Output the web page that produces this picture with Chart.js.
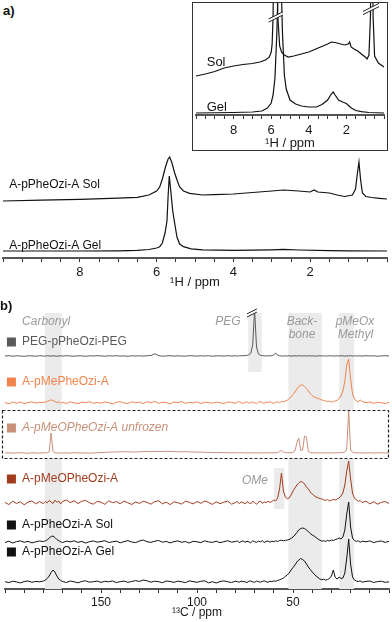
<!DOCTYPE html>
<html>
<head>
<meta charset="utf-8">
<script src="https://cdn.jsdelivr.net/npm/chart.js@4"></script>
<style>
  body { margin: 0; background: #fff; }
  #wrap { position: relative; width: 392px; height: 622px; overflow: hidden; font-family: "Liberation Sans", Arial, sans-serif; }
  canvas { position: absolute; }
  .tag { position: absolute; font-weight: bold; font-size: 13px; z-index: 2; color: #111; }
</style>
</head>
<body>
<div id="wrap">
  <div class="tag" style="left:3px;top:3px">a)</div>
  <div class="tag" style="left:0px;top:298px">b)</div>
  <canvas id="hInset" width="196" height="149" style="left:192px;top:2px"></canvas>
  <canvas id="hMain" width="392" height="140" style="left:0;top:150px"></canvas>
  <canvas id="c13" width="392" height="332" style="left:0;top:290px"></canvas>
</div>
<script>
// ---- a) 1H spectra, main ----
const hSolPpm = [10,9,8,7,6.5,6.2,6.0,5.92,5.85,5.77,5.7,5.66,5.6,5.53,5.45,5.4,5.3,5.14,4.8,4.5,4,3.5,3,2.7,2.3,2,1.9,1.8,1.5,1.3,1.1,0.9,0.82,0.77,0.73,0.69,0.64,0.55,0.4,0.2,0];
const hSolInt = [0,0.8,1.6,2.8,3.7,6,10,14,22,34,42,44,38,28,19,14,10,7.7,6,6.3,7,8.5,10,11,10,9,11,9,8,6,4.5,6,12,28,39,22,8,4.5,3.5,2.7,2];
const hGelPpm = [10,8,7,6.5,6.2,6.0,5.92,5.85,5.78,5.73,5.7,5.67,5.63,5.58,5.53,5.47,5.4,5.3,5.1,4.8,4,3,2.7,2.3,1.5,1,0];
const hGelInt = [0,0,0.2,0.6,1.5,3,4.3,8,18,30,55,75,60,40,28,14,7,4.3,2.2,1.2,0.6,1.2,1.6,1,0.4,0.2,0];

// ---- a) inset ----
const inSolPpm = [10,9.5,9,8.5,8,7.5,7,6.6,6.3,6.1,6.0,5.95,5.9,5.85,5.75,5.65,5.55,5.45,5.3,5.1,4.8,4.4,4,3.5,3,2.8,2.6,2.3,2.1,1.9,1.83,1.75,1.6,1.4,1.2,1,0.9,0.8,0.72,0.68,0.62,0.58,0.5,0.3,0];
const inSolInt = [0,2,4.5,8,10,11.5,12.5,14,16,19,24,32,60,150,150,60,30,24,21,19,20,22,24,28,32,34,33.5,32,31,32,34,29,27,25,22,19,17,21,60,150,150,60,20,13,9];
const inGelPpm = [10,8,7,6.5,6.2,6.0,5.9,5.8,5.7,5.6,5.5,5.4,5.3,5.2,5.0,4.7,4.4,4.0,3.6,3.3,3.0,2.8,2.7,2.6,2.42,2.2,2.0,1.74,1.5,1.2,0.8,0];
const inGelInt = [0,0.5,1,2,5,10,18,35,80,150,150,80,38,24,13,9,7,6,6,8.5,13,19,21,18,13,11,9.5,5,2.5,1.3,0.5,0];

const hTicks = [2, 4, 6, 8];

// ---- b) 13C spectra ----
const cPpm = [200,198,196,194,192,190,188,186,184,182,
  180,179,178,177,176,175,174,173,172,171,
  170,168,166,164,162,160,158,156,154,152,
  150,148,146,144,142,140,138,136,134,132,
  130,128,126,124,122,120,118,116,114,112,
  110,108,106,104,102,100,98,96,94,92,
  90,88,86,84,82,80,79,78,77,76,
  75,74,73,72,71,70,69,68,67,66,
  65,64,63,62,61,60,59,58,57,56,
  55,54,53,52,51,50,49,48,47,46,
  45,44,43,42,41,40,39,38,37,36,
  35,34,33,32,31,30,29,28,27,26,
  25,24,23,22,21,20,19,18,17,16,
  15,14,12,10,8,6,4,2,0];

const cPeg = [0,0.3,-0.2,0.2,0,-0.3,0.2,0.1,-0.2,0.3,
  0,-0.2,0.3,0.1,-0.1,0.2,0,-0.3,0.1,0.2,
  -0.1,0.3,0,-0.2,0.2,0.1,-0.3,0.2,0,0.3,
  0.1,-0.2,0.2,0,0.3,-0.1,0.1,-0.3,0.2,0,
  0.2,-0.1,0.3,0.5,2.2,0.4,-0.2,0.1,0.3,-0.1,
  0.2,0,-0.2,0.3,0.1,-0.1,0.2,0,0.3,-0.2,
  0.1,0.2,-0.1,0.3,0,0.2,-0.1,0.3,0.2,0.4,
  0.3,0.6,1.2,2.5,11,46,9,2,0.8,0.3,
  0.2,0,0.3,0.1,0.4,1.2,3,0.8,0.2,0.1,
  -0.1,0.2,0,0.3,-0.2,0.1,0.2,0,0.3,0.1,
  0,0.2,-0.1,0.3,0.1,0,0.2,-0.2,0.1,0.3,
  0,0.2,-0.1,0.1,0.3,0,0.2,-0.1,0.2,0,
  0.3,0.1,-0.2,0.2,0,0.3,-0.1,0.2,0,0.1,
  0.2,-0.1,0.3,0,0.2,-0.2,0.1,0.3,0];

const cMePhe = [0.5,-0.8,0.9,-0.3,1.1,-0.6,0.4,1.2,-0.2,0.7,
  0.3,1,1.6,2.2,3.2,2.5,1.4,0.6,1.2,-0.3,
  0.8,-0.5,1.1,0.2,-0.7,0.9,0.3,1.3,-0.4,0.6,
  -0.2,1,0.4,-0.9,0.7,1.4,0.1,-0.5,1.2,0.3,
  0.9,-0.6,1.3,0.2,1.6,-0.3,0.8,0.4,-0.7,1.1,
  0.2,1.4,-0.4,0.7,0.1,1.2,-0.6,0.9,0.4,-0.2,
  0.8,0.3,-0.5,1.1,0.6,-0.3,0.9,1.3,0.2,-0.4,
  0.7,1.2,-0.2,0.5,1,0.1,-0.6,0.8,1.3,0.4,
  -0.3,0.9,0.5,1.4,0.2,-0.5,0.8,1.1,0.3,1.6,
  1.2,2,2.8,4.5,6,8.5,11,14,16.5,18,
  18,16.5,14.5,12,9.5,7.5,6,5.2,4.6,3.8,
  3,2.6,2,1.4,1.8,0.9,1.5,2.1,2.8,4.5,
  7,12,22,38,44,24,9,4,2,1.3,
  3,1.5,0.4,1,-0.3,0.8,0.2,-0.5,0.6];

const cUnfrozen = [0,0.2,-0.1,0.1,0.3,0,-0.2,0.2,0.1,-0.1,
  0.2,0,0.3,1,20,1.5,0.2,-0.1,0.1,0.2,
  0,0.2,-0.1,0.3,0.1,0,0.2,-0.2,0.1,0.3,
  0.4,0.6,0.8,1,1.1,1.2,1.3,1.2,1.1,1,
  1.2,1.4,1.5,1.3,1.6,1.4,1.5,1.7,1.5,1.4,
  1.3,1.2,1.4,1.1,1,0.9,0.8,0.7,0.6,0.5,
  0.4,0.5,0.3,0.4,0.2,0.3,0.1,0.2,0.3,0.1,
  0.2,0,0.1,0.3,0.2,0,0.1,0.2,0,0.1,
  0.2,0.1,0,0.2,0.3,0.1,0.2,0.5,1.5,2.5,
  1,0.4,0.3,0.2,0.4,0.6,2,10,15,2.5,
  3,17,16,1.5,0.4,0.2,0.1,0.2,0,0.1,
  0.2,0,0.1,0.2,0.1,0,0.2,0.1,0.3,0.2,
  0.4,0.6,1,4,43,3,0.8,0.4,0.2,0.1,
  0.2,0,0.1,0.2,0,0.1,0.2,0,0.1];

const cMeOPhe = [0.5,-1.5,1.8,-0.4,1.2,-1.8,0.9,2,-0.8,1.4,
  -0.6,1.6,0.2,2.4,1.1,-0.5,2.8,0.7,1.9,-0.9,
  1.5,3,0.4,2.2,-0.6,1.8,2.6,0.3,-1.2,1.6,
  0.8,-1.4,2.1,0.4,1.3,-0.7,1.9,0.2,-1.5,1.1,
  -0.4,1.7,0.6,-1.2,1.4,2.2,-0.8,0.9,-1.6,1.2,
  0.3,-1.1,1.8,0.7,-0.9,1.5,-0.3,2,0.6,-1.4,
  1.2,-0.6,0.8,1.9,-1.2,0.5,1.6,-0.7,1.1,0.3,
  -1,1.4,0.2,-0.8,1.7,0.6,-1.3,0.9,2,-0.4,
  1.1,0.3,1.8,0.6,1.5,3,2.2,5,14,30,
  12,6,4,5,8,12,15,18,20,21.5,
  21,19,16,14,11,9,7.5,6,5.2,4.5,
  4,3.2,2.5,3.4,2,2.8,3.6,3,4,5,
  7,10,18,32,42,24,10,5,3,1.6,
  2.5,0.4,1.8,-0.9,1.3,-1.2,0.6,1.5,-0.5];

const cSol = [-0.5,0.8,-1,0.4,1.1,-0.3,0.6,-0.9,0.2,1,
  0.4,1.2,2.2,3.8,5.5,6,4.5,2.5,1.3,0.3,
  -0.6,0.9,0.1,1.2,-0.4,0.6,-1,0.3,1.1,-0.2,
  0.5,1.3,-0.5,0.2,0.9,-0.8,0.4,1.4,0,-0.6,
  1,2,0.3,-0.4,0.8,1.5,-0.2,0.6,-0.9,0.4,
  1.1,-0.3,0.5,-1,0.7,0.2,-0.6,1.2,0.1,-0.4,
  0.8,-0.7,0.3,1.3,-0.2,0.6,1,-0.5,0.4,1.2,
  -0.3,0.7,0.2,-0.8,1.1,0.4,-0.4,0.9,0.1,1.3,
  -0.5,0.6,1,-0.2,0.8,0.3,1.2,0.5,1.5,1.8,
  1.2,1.6,2,2.5,3.5,5,7,9.5,12,13.5,
  14,13.5,12,10.5,8.5,7,6,4.5,3,1.8,
  0.8,1.3,0.5,1.6,1,2,1.5,2.4,3,4,
  3,5,12,28,40,15,4,1.5,0.6,1.2,
  -0.3,0.8,0.2,1.1,-0.6,0.5,1,-0.4,0.7];

const cGel = [0.3,-0.6,0.8,0.1,-0.9,0.5,1,-0.3,0.6,0.2,
  1,2,3.5,6,9.5,12,10,6,3,1.5,
  0.4,-0.5,1,0.2,-0.8,0.6,1.2,-0.2,0.3,0.9,
  -0.4,0.7,0.2,1.1,-0.6,0.4,0.9,-0.3,0.5,1.4,
  0.6,2,1.2,-0.2,0.8,0.3,-0.7,1,0.5,-0.4,
  0.9,0.2,-0.6,1.1,0.4,-0.3,0.7,1.2,-0.9,0.3,
  -1,0.5,1.1,0.2,-0.5,0.8,0.3,-0.2,0.9,0.4,
  0.2,-0.6,0.7,1,0.1,-0.3,0.9,0.4,-0.2,0.6,
  1.2,0.3,-0.4,0.8,0.5,1.1,0.7,1.6,2.2,3,
  4,5.5,7,9,12,14.5,17,20,22,23.5,
  22.5,21,18,15,12.5,10,8,6,4.5,3,
  2.2,2.8,1.8,2.5,3.5,6,12,4.5,3,5,
  3.5,4,9,24,43,18,5,2,1,0.5,
  1.1,-0.2,0.6,1,-0.5,0.4,0.8,-0.3,0.2];

const cNames = ['PEG-pPheOzi-PEG', 'A-pMePheOzi-A', 'A-pMeOPheOzi-A unfrozen', 'A-pMeOPheOzi-A', 'A-pPheOzi-A Sol', 'A-pPheOzi-A Gel'];
const cTicks = [50, 100, 150];

Chart.defaults.font.family = '"Liberation Sans", Arial, sans-serif';
Chart.defaults.animation = false;

const GREY = '#9a9a9a';

function pts(ppm, vals, base) {
  return ppm.map((p, i) => ({ x: p, y: vals[i] + base }));
}
function line(ppm, vals, base, color, w) {
  return { data: pts(ppm, vals, base), borderColor: color, borderWidth: w || 1, pointRadius: 0, tension: 0, fill: false };
}

function ppmAxis(o) {
  return {
    type: 'linear', reverse: true, min: o.min, max: o.max,
    border: { color: '#555', width: 2 },
    grid: { drawOnChartArea: false, tickLength: 4, color: '#333', tickWidth: 1 },
    ticks: {
      stepSize: o.step, autoSkip: false, maxRotation: 0, padding: o.pad, color: '#1a1a1a',
      font: { size: o.size },
      callback: v => o.labels.includes(v) ? String(v) : ''
    },
    title: { display: true, text: o.title, color: '#1a1a1a', font: { size: o.tsize }, padding: { top: 0, bottom: o.tpad } },
    afterFit: s => { s.height = o.h; }
  };
}

function drawBreak(ctx, cx, cy, w) {
  const dx = w / 2, dy = w * 0.25, g = 1.6;
  ctx.fillStyle = '#fff';
  ctx.beginPath();
  ctx.moveTo(cx - dx, cy + dy - g); ctx.lineTo(cx + dx, cy - dy - g);
  ctx.lineTo(cx + dx, cy - dy + g); ctx.lineTo(cx - dx, cy + dy + g);
  ctx.closePath(); ctx.fill();
  ctx.strokeStyle = '#222'; ctx.lineWidth = 1;
  ctx.beginPath();
  ctx.moveTo(cx - dx, cy + dy - g); ctx.lineTo(cx + dx, cy - dy - g);
  ctx.moveTo(cx - dx, cy + dy + g); ctx.lineTo(cx + dx, cy - dy + g);
  ctx.stroke();
}

// shading, dashed box, labels, break marks
const decor = {
  id: 'decor',
  beforeDatasetsDraw(chart, args, o) {
    const { ctx, chartArea: ca, scales: { x, y } } = chart;
    ctx.save();
    ctx.fillStyle = '#ebebeb';
    (o.shades || []).forEach(s => {
      const x0 = x.getPixelForValue(s.from), x1 = x.getPixelForValue(s.to);
      const y0 = y.getPixelForValue(s.hi), y1 = y.getPixelForValue(s.lo);
      ctx.fillRect(Math.min(x0, x1), y0, Math.abs(x1 - x0), y1 - y0);
    });
    if (o.box) {
      const y0 = y.getPixelForValue(o.box.hi), y1 = y.getPixelForValue(o.box.lo);
      ctx.fillStyle = '#fff';
      ctx.fillRect(ca.left - 3, y0, ca.right - ca.left + 3, y1 - y0);
    }
    ctx.restore();
  },
  afterDatasetsDraw(chart, args, o) {
    const { ctx, chartArea: ca, scales: { x, y } } = chart;
    ctx.save();
    (o.breaks || []).forEach(b => drawBreak(ctx, x.getPixelForValue(b.ppm), y.getPixelForValue(b.y), b.w));
    if (o.box) {
      const y0 = y.getPixelForValue(o.box.hi), y1 = y.getPixelForValue(o.box.lo);
      ctx.strokeStyle = '#222'; ctx.lineWidth = 1.2; ctx.setLineDash([3, 2]);
      ctx.strokeRect(ca.left - 2.5, y0 + 0.5, ca.right - ca.left + 2, y1 - y0 - 1);
      ctx.setLineDash([]);
    }
    (o.squares || []).forEach(s => {
      ctx.fillStyle = s.c;
      ctx.fillRect(x.getPixelForValue(s.ppm), y.getPixelForValue(s.y) - 4.5, 9, 9);
    });
    ctx.textBaseline = 'middle';
    (o.texts || []).forEach(t => {
      ctx.font = (t.it ? 'italic ' : '') + (t.size || 12) + 'px "Liberation Sans", Arial, sans-serif';
      ctx.fillStyle = t.c || '#111';
      ctx.textAlign = t.al || 'left';
      ctx.fillText(t.t, x.getPixelForValue(t.ppm), y.getPixelForValue(t.y));
    });
    if (o.frame) {
      ctx.strokeStyle = '#333'; ctx.lineWidth = 1;
      ctx.strokeRect(0.5, 0.5, chart.width - 1, chart.height - 1);
    }
    ctx.restore();
  }
};

function baseOpts(pad, ymax, xAxis, dec) {
  return {
    responsive: false,
    layout: { padding: pad },
    scales: { x: xAxis, y: { display: false, min: 0, max: ymax } },
    plugins: { legend: { display: false }, tooltip: { enabled: false }, decor: dec }
  };
}

// a) main
new Chart(document.getElementById('hMain'), {
  type: 'line',
  data: { datasets: [
    line(hSolPpm, hSolInt, 57, '#111', 1.2),
    line(hGelPpm, hGelInt, 7, '#111', 1.2)
  ] },
  options: baseOpts({ left: 1, right: 5, top: 0, bottom: 0 }, 108,
    ppmAxis({ min: 0, max: 10, step: 0.5, labels: hTicks, pad: 3, size: 13, title: '¹H / ppm', tsize: 13, tpad: 0, h: 32 }),
    { texts: [
      { t: 'A-pPheOzi-A Sol', ppm: 9.84, y: 73 },
      { t: 'A-pPheOzi-A Gel', ppm: 9.84, y: 12 }
    ] }),
  plugins: [decor]
});

// a) inset
new Chart(document.getElementById('hInset'), {
  type: 'line',
  data: { datasets: [
    line(inSolPpm, inSolInt, 39, '#111', 1.2),
    line(inGelPpm, inGelInt, 2, '#111', 1.2)
  ] },
  options: baseOpts({ left: 0, right: 2, top: 0, bottom: 0 }, 113,
    ppmAxis({ min: 0, max: 10, step: 0.5, labels: hTicks, pad: 4, size: 13, title: '¹H / ppm', tsize: 13, tpad: 0, h: 36 }),
    { frame: true,
      breaks: [{ ppm: 5.76, y: 98, w: 14 }, { ppm: 0.69, y: 106, w: 16 }],
      texts: [
        { t: 'Sol', ppm: 9.43, y: 53, size: 13 },
        { t: 'Gel', ppm: 9.43, y: 8, size: 13 }
      ] }),
  plugins: [decor]
});

// b) 13C
const cColors = ['#5a5a5a', '#f0844e', '#c99079', '#a03c1c', '#111', '#111'];
const cSeries = [cPeg, cMePhe, cUnfrozen, cMeOPhe, cSol, cGel];
const cBase = [233, 186, 136, 86, 47, 7];
const cLabelY = [247, 207, 161, 110, 64, 37];

new Chart(document.getElementById('c13'), {
  type: 'line',
  data: { datasets: cSeries.map((s, i) => line(cPpm, s, cBase[i], cColors[i], 1)) },
  options: baseOpts({ left: 5, right: 3, top: 0, bottom: 0 }, 299,
    ppmAxis({ min: 0, max: 200, step: 10, labels: cTicks, pad: 2, size: 12, title: '¹³C / ppm', tsize: 12, tpad: 2, h: 33 }),
    { shades: [
        { from: 179.2, to: 170.5, lo: 0, hi: 276 },
        { from: 52.4, to: 35, lo: 0, hi: 276 },
        { from: 25.9, to: 18.2, lo: 0, hi: 276 },
        { from: 73.3, to: 66.3, lo: 217, hi: 276 },
        { from: 59.9, to: 54.5, lo: 80, hi: 121 }
      ],
      box: { lo: 130, hi: 179 },
      breaks: [{ ppm: 71.4, y: 276, w: 10 }],
      squares: cNames.map((n, i) => ({ ppm: 199, y: cLabelY[i], c: cColors[i] })),
      texts: [
        { t: 'Carbonyl', ppm: 191.1, y: 267, c: GREY, it: true },
        { t: 'PEG', ppm: 83.9, y: 267, c: GREY, it: true, al: 'center' },
        { t: 'Back-', ppm: 45.3, y: 267, c: GREY, it: true, al: 'center' },
        { t: 'bone', ppm: 45.3, y: 254, c: GREY, it: true, al: 'center' },
        { t: 'pMeOx', ppm: 17.7, y: 267, c: GREY, it: true, al: 'center' },
        { t: 'Methyl', ppm: 17.5, y: 254, c: GREY, it: true, al: 'center' },
        { t: 'OMe', ppm: 63, y: 108, c: GREY, it: true, al: 'right' }
      ].concat(cNames.map((n, i) => ({ t: n, ppm: 191.1, y: cLabelY[i], c: cColors[i], it: i === 2 })))
    }),
  plugins: [decor]
});
</script>
</body>
</html>
